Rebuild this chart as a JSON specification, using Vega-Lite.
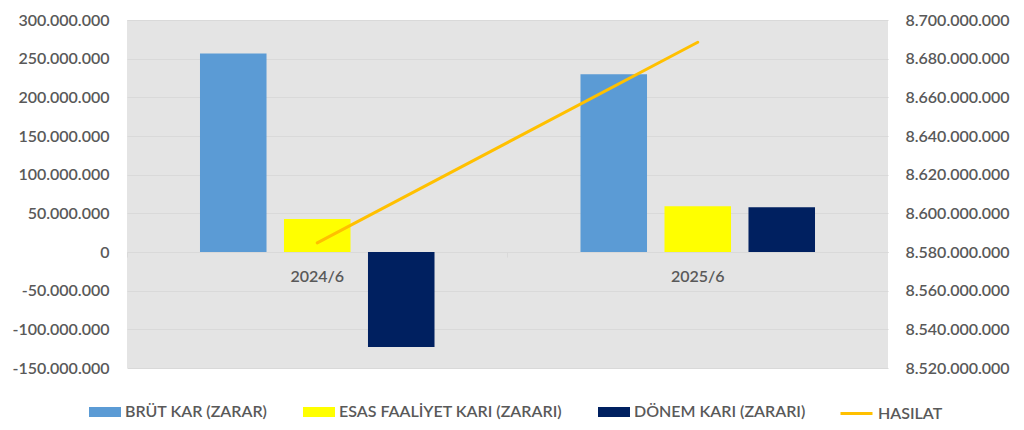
{
  "$schema": "https://vega.github.io/schema/vega-lite/v6.json",
  "autosize": "none",
  "width": 761,
  "height": 348,
  "padding": {"left": 127, "top": 20, "right": 136, "bottom": 62},
  "background": "#ffffff",
  "config": {
    "locale": {"number": {"decimal": ",", "thousands": ".", "grouping": [3], "currency": ["", ""], "minus": "-"}},
    "view": {"fill": "#e4e4e4", "stroke": null},
    "font": "Lato",
    "axis": {"labelFont": "Lato", "labelFontSize": 16, "labelFontWeight": 600, "labelColor": "#595959", "title": null},
    "legend": {"labelFont": "Lato", "labelFontSize": 16, "labelFontWeight": 600, "labelColor": "#595959", "labelLimit": 400, "title": null}
  },
  "encoding": {
    "x": {
      "field": "donem",
      "type": "nominal",
      "sort": ["2024/6", "2025/6"],
      "scale": {"paddingInner": 0, "paddingOuter": 0},
      "axis": {
        "orient": "bottom",
        "offset": -116,
        "labelAngle": 0,
        "domainColor": "#d9d9d9",
        "tickColor": "#d9d9d9",
        "tickSize": 5,
        "bandPosition": 0,
        "labelPadding": 11,
        "grid": false
      }
    }
  },
  "layer": [
    {
      "data": {
        "values": [
          {"donem": "2024/6", "seri": "BRÜT KAR (ZARAR)", "deger": 256600000},
          {"donem": "2024/6", "seri": "ESAS FAALİYET KARI (ZARARI)", "deger": 42800000},
          {"donem": "2024/6", "seri": "DÖNEM KARI (ZARARI)", "deger": -122700000},
          {"donem": "2025/6", "seri": "BRÜT KAR (ZARAR)", "deger": 229800000},
          {"donem": "2025/6", "seri": "ESAS FAALİYET KARI (ZARARI)", "deger": 59100000},
          {"donem": "2025/6", "seri": "DÖNEM KARI (ZARARI)", "deger": 57800000}
        ]
      },
      "mark": {"type": "bar"},
      "encoding": {
        "xOffset": {
          "field": "seri",
          "sort": ["BRÜT KAR (ZARAR)", "ESAS FAALİYET KARI (ZARARI)", "DÖNEM KARI (ZARARI)"],
          "scale": {"paddingInner": 0.208, "paddingOuter": 0.869}
        },
        "y": {
          "field": "deger",
          "type": "quantitative",
          "scale": {"domain": [-150000000, 300000000], "nice": false},
          "axis": {
            "orient": "left",
            "values": [-150000000, -100000000, -50000000, 0, 50000000, 100000000, 150000000, 200000000, 250000000, 300000000],
            "format": ",.0f",
            "domain": false,
            "ticks": false,
            "tickSize": 0,
            "labelPadding": 18,
            "grid": true,
            "gridColor": "#d9d9d9",
            "gridWidth": 1
          }
        },
        "fill": {
          "field": "seri",
          "type": "nominal",
          "scale": {
            "domain": ["BRÜT KAR (ZARAR)", "ESAS FAALİYET KARI (ZARARI)", "DÖNEM KARI (ZARARI)"],
            "range": ["#5b9bd5", "#ffff00", "#002060"]
          },
          "legend": {
            "orient": "none",
            "legendX": -38,
            "legendY": 376,
            "direction": "horizontal",
            "symbolType": "M-1,-0.3125H1V0.3125H-1Z",
            "symbolSize": 1024,
            "symbolStrokeWidth": 0,
            "labelOffset": 4,
            "columnPadding": 35
          }
        }
      }
    },
    {
      "data": {
        "values": [
          {"donem": "2024/6", "seri": "HASILAT", "hasilat": 8584700000},
          {"donem": "2025/6", "seri": "HASILAT", "hasilat": 8688500000}
        ]
      },
      "mark": {"type": "line", "strokeWidth": 3, "strokeCap": "round"},
      "encoding": {
        "y": {
          "field": "hasilat",
          "type": "quantitative",
          "scale": {"domain": [8520000000, 8700000000], "nice": false, "zero": false},
          "axis": {
            "orient": "right",
            "values": [8520000000, 8540000000, 8560000000, 8580000000, 8600000000, 8620000000, 8640000000, 8660000000, 8680000000, 8700000000],
            "format": ",.0f",
            "domain": false,
            "ticks": false,
            "tickSize": 0,
            "labelPadding": 17,
            "grid": false
          }
        },
        "stroke": {
          "field": "seri",
          "type": "nominal",
          "scale": {"domain": ["HASILAT"], "range": ["#ffc000"]},
          "legend": {
            "orient": "none",
            "legendX": 712,
            "legendY": 376,
            "direction": "horizontal",
            "symbolType": "stroke",
            "symbolSize": 1024,
            "symbolStrokeWidth": 3,
            "labelOffset": 4
          }
        }
      }
    }
  ],
  "resolve": {"scale": {"y": "independent"}}
}
